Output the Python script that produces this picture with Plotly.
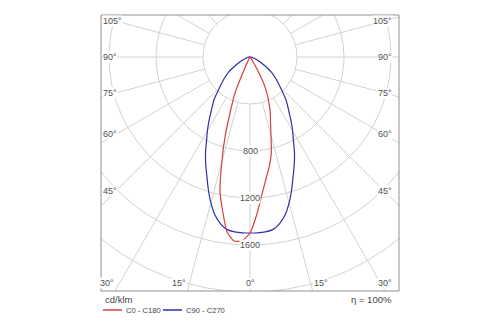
import numpy as np
import plotly.graph_objects as go

# ---- photometric data (cd/klm), gamma measured from nadir ----
gamma = [0, 2.5, 5, 7.5, 10, 12.5, 15, 17.5, 20, 22.5, 25, 27.5, 30, 32.5, 35,
         37.5, 40, 45, 50, 55, 60, 65, 70, 75, 80, 85, 90]
c0 = [1498, 1340, 1172, 1045, 945, 838, 690, 580, 505, 420, 340, 250, 125, 50, 15,
      5, 0, 0, 0, 0, 0, 0, 0, 0, 0, 0, 0]
c180 = [1498, 1565, 1572, 1500, 1335, 1178, 928, 700, 480, 338, 110, 30, 8, 3, 0,
        0, 0, 0, 0, 0, 0, 0, 0, 0, 0, 0, 0]
c90 = [1498, 1498, 1494, 1482, 1442, 1378, 1286, 1180, 1075, 985, 896, 800, 725,
       652, 582, 527, 477, 366, 288, 218, 140, 90, 50, 25, 10, 3, 0]
c270 = list(c90)

rings = [400, 800, 1200, 1600, 2000, 2400]
ring_labels = [800, 1200, 1600]
angle_ticks = [0, 15, 30, 45, 60, 75, 90, 105]
spoke_angles = list(range(0, 181, 15))

# ---- page geometry (pixels) ----
W, H = 500, 325
FX0, FX1, FY0, FY1 = 101, 399, 15, 291      # framed plot area
CX, CY = 250, 57                            # pole of the diagram
S = 0.1175                                  # pixels per cd/klm
SIDE_IN = 134                               # side labels sit on this offset
LABEL_Y = 283                               # centre line of bottom labels
LAB_PAD_R = 6                               # gap between right labels and frame

GRID = "#d2d2d2"
TXT = "#505050"
FONT = "Liberation Sans, Arial, sans-serif"
LAB_SIZE = 9


def to_xy(g_deg, val, side):
    g = np.radians(np.asarray(g_deg, dtype=float))
    v = np.asarray(val, dtype=float)
    return side * v * np.sin(g), -v * np.cos(g)


def px2paper_x(px):
    return (px - FX0) / (FX1 - FX0)


def px2paper_y(py):
    return (FY1 - py) / (FY1 - FY0)


def text_w(s, size):
    # rough Arial advance widths
    w = {"°": 0.4}
    return sum(w.get(ch, 0.556) for ch in s) * size


fig = go.Figure()

# concentric rings
t = np.linspace(0, 2 * np.pi, 721)
for r in rings:
    fig.add_trace(go.Scatter(x=r * np.cos(t), y=r * np.sin(t), mode="lines",
                             line=dict(color=GRID, width=1), hoverinfo="skip",
                             showlegend=False))

# spokes every 15 degrees from the inner ring out to the frame
annotations = []
r0 = rings[0]
for a in spoke_angles:
    ar = np.radians(a)
    dx, dy = np.sin(ar), np.cos(ar)          # dy > 0: towards the nadir
    for side in (-1, 1):
        if side == -1 and a in (0, 180):
            continue
        L = 4000
        fig.add_trace(go.Scatter(
            x=[side * r0 * dx, side * L * dx], y=[-r0 * dy, -L * dy],
            mode="lines", line=dict(color=GRID, width=1),
            hoverinfo="skip", showlegend=False))
        if a not in angle_ticks:
            continue
        txt = f"{a}°"
        lab = dict(text=txt, showarrow=False, bgcolor="white", borderpad=0,
                   font=dict(size=LAB_SIZE, color=TXT, family=FONT))
        hit_bottom_px = (FY1 - CY) * dx / dy if dy > 1e-9 else np.inf
        if dy > 1e-9 and hit_bottom_px <= (CX - FX0):
            # bottom label, outer edge on the spoke where it meets the frame
            xe = CX + side * hit_bottom_px
            if a == 0:
                anchor = "center"
            elif side < 0:
                anchor = "right"
            else:
                anchor = "left"
                if xe + text_w(txt, LAB_SIZE) > FX1 - LAB_PAD_R:
                    xe, anchor = FX1 - LAB_PAD_R, "right"
            lab.update(xref="x", yref="paper", x=(xe - CX) / S,
                       y=px2paper_y(LABEL_Y), yanchor="middle", xanchor=anchor)
        else:
            ypx = CY + SIDE_IN * dy / dx
            lab.update(xref="paper", yref="y",
                       x=0 if side < 0 else 1, y=-(ypx - CY) / S,
                       xanchor="left" if side < 0 else "right",
                       xshift=1 if side < 0 else -LAB_PAD_R, yanchor="middle")
        annotations.append(lab)

# ring value labels on the nadir axis
for v in ring_labels:
    annotations.append(dict(x=0, y=-v, xref="x", yref="y", text=str(v),
                            showarrow=False, bgcolor="white", borderpad=0,
                            font=dict(size=LAB_SIZE, color=TXT, family=FONT)))


# luminous intensity curves, left half mirrored from gamma = 90 down to 0
def curve(left_vals, right_vals):
    xl, yl = to_xy(gamma[::-1], left_vals[::-1], -1)
    xr, yr = to_xy(gamma, right_vals, 1)
    return np.concatenate([xl, xr[1:]]), np.concatenate([yl, yr[1:]])


RED, BLUE = "#d63f3f", "#2e2ea8"
xb, yb = curve(c270, c90)
fig.add_trace(go.Scatter(x=xb, y=yb, mode="lines", name="C90 - C270",
                         line=dict(color=BLUE, width=1.2, shape="spline",
                                   smoothing=0.6),
                         showlegend=False))
xr_, yr_ = curve(c180, c0)
fig.add_trace(go.Scatter(x=xr_, y=yr_, mode="lines", name="C0 - C180",
                         line=dict(color=RED, width=1.2, shape="spline",
                                   smoothing=0.6),
                         showlegend=False))

# unit, efficiency and legend below the frame
annotations += [
    dict(x=px2paper_x(FX0 + 2), y=px2paper_y(299), xref="paper", yref="paper",
         text="cd/klm", showarrow=False, xanchor="left", yanchor="middle",
         font=dict(size=9.5, color="#444444", family=FONT)),
    dict(x=px2paper_x(FX1 - 5), y=px2paper_y(299), xref="paper", yref="paper",
         text="η = 100%", showarrow=False, xanchor="right", yanchor="middle",
         font=dict(size=9.5, color="#444444", family=FONT)),
    dict(x=px2paper_x(124), y=px2paper_y(310), xref="paper", yref="paper",
         text="C0 - C180", showarrow=False, xanchor="left", yanchor="middle",
         font=dict(size=7.6, color="#444444", family=FONT)),
    dict(x=px2paper_x(184), y=px2paper_y(310), xref="paper", yref="paper",
         text="C90 - C270", showarrow=False, xanchor="left", yanchor="middle",
         font=dict(size=7.6, color="#444444", family=FONT)),
]

shapes = [
    dict(type="rect", xref="paper", yref="paper", x0=0, x1=1, y0=0, y1=1,
         line=dict(color="#8f8f8f", width=1), layer="above"),
    dict(type="line", xref="paper", yref="paper",
         x0=px2paper_x(103), x1=px2paper_x(122),
         y0=px2paper_y(310), y1=px2paper_y(310),
         line=dict(color=RED, width=1.5)),
    dict(type="line", xref="paper", yref="paper",
         x0=px2paper_x(163), x1=px2paper_x(182),
         y0=px2paper_y(310), y1=px2paper_y(310),
         line=dict(color=BLUE, width=1.5)),
]

fig.update_layout(
    width=W, height=H,
    margin=dict(l=FX0, r=W - FX1, t=FY0, b=H - FY1, pad=0),
    paper_bgcolor="white", plot_bgcolor="white",
    xaxis=dict(range=[(FX0 - CX) / S, (FX1 - CX) / S], visible=False,
               fixedrange=True),
    yaxis=dict(range=[-(FY1 - CY) / S, (CY - FY0) / S], visible=False,
               fixedrange=True),
    annotations=annotations, shapes=shapes, showlegend=False,
)

fig.write_html("out.html")
